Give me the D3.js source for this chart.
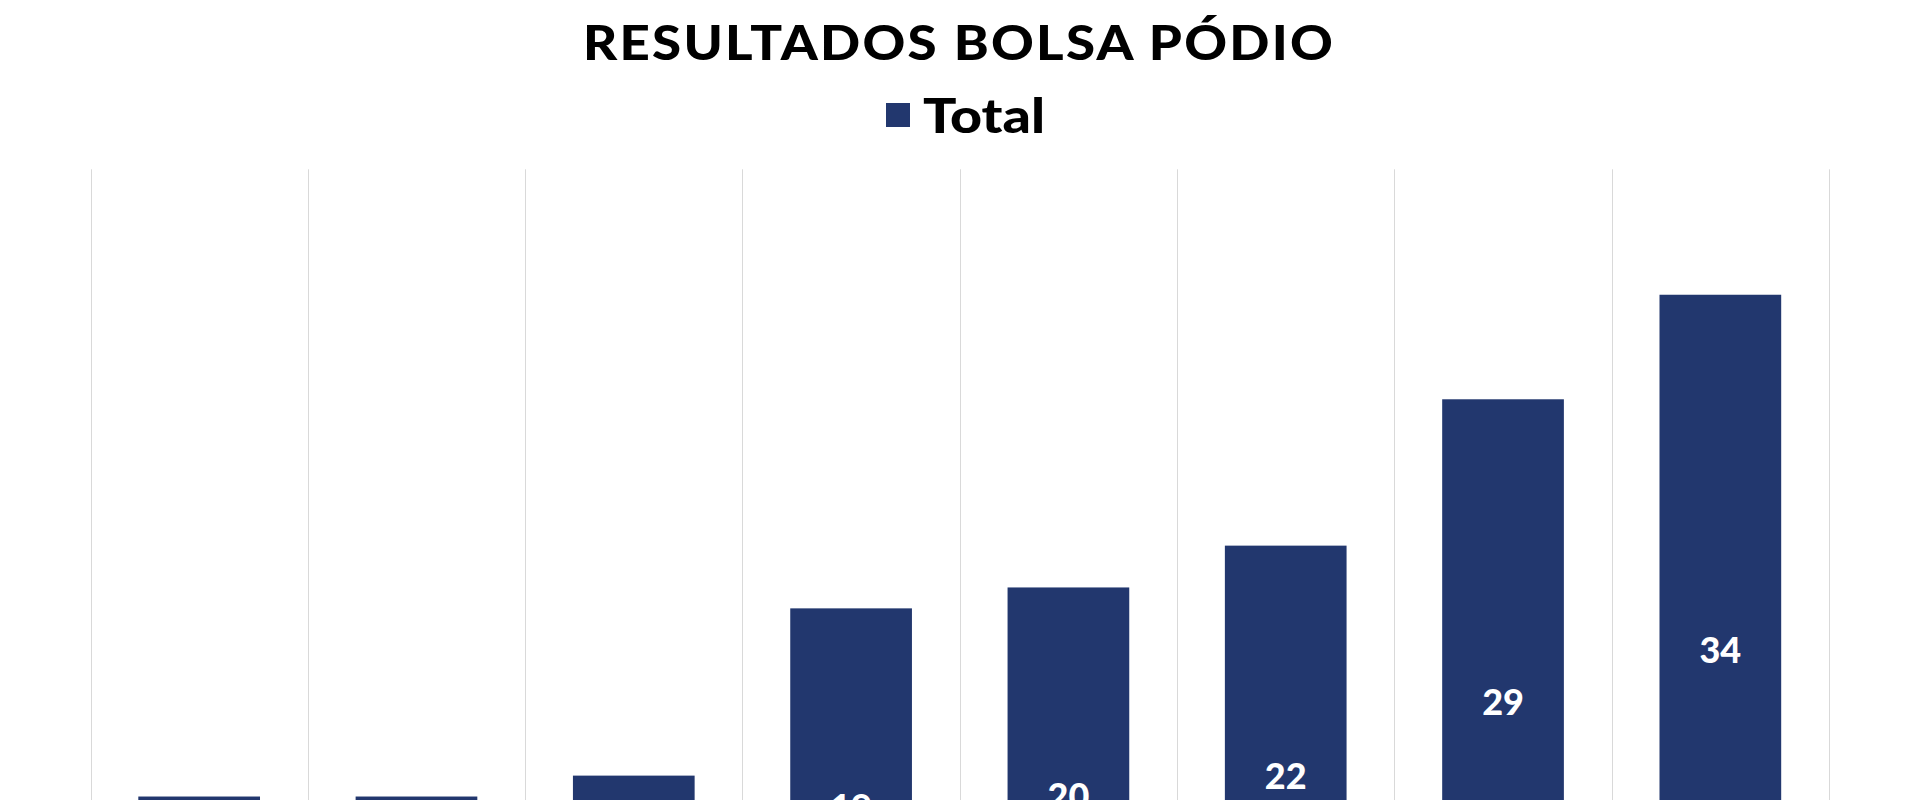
<!DOCTYPE html>
<html>
<head>
<meta charset="utf-8">
<script src="https://cdn.jsdelivr.net/npm/d3@7"></script>
<style>
  html, body { margin: 0; padding: 0; background: #fff; overflow: hidden; }
  svg { display: block; }
</style>
</head>
<body>
<svg id="chart" width="1920" height="800"></svg>
<script>
// ---- data ----
const titleText = "RESULTADOS BOLSA PÓDIO";
const seriesName = "Total";
const categories = ["C1", "C2", "C3", "C4", "C5", "C6", "C7", "C8"]; // axis labels lie below the visible area
const values = [10, 10, 11, 19, 20, 22, 29, 34];
const yDomainMax = 40;

// ---- layout ----
const W = 1920, H = 800;
const plotLeft = 90.5, plotRight = 1829, plotTop = 169.3, plotBottom = 1005.6; // baseline falls below the viewport
const barColor = "#22376e";
const labelSize = 36;

const svg = d3.select("#chart");

const x = d3.scaleBand().domain(categories).range([plotLeft, plotRight]).padding(0);
const y = d3.scaleLinear().domain([0, yDomainMax]).range([plotBottom, plotTop]);
const barFrac = 0.56;

// vertical gridlines at category boundaries
const bounds = categories.map(c => x(c)).concat([x(categories[categories.length - 1]) + x.bandwidth()]);
svg.append("g").selectAll("line").data(bounds).join("line")
  .attr("x1", d => Math.round(d) + 0.5).attr("x2", d => Math.round(d) + 0.5)
  .attr("y1", y(yDomainMax)).attr("y2", y(0))
  .attr("stroke", "#d9d9d9").attr("stroke-width", 1);

// bars
const bw = x.bandwidth() * barFrac;
svg.append("g").selectAll("rect").data(values).join("rect")
  .attr("x", (d, i) => x(categories[i]) + (x.bandwidth() - bw) / 2)
  .attr("y", d => y(d))
  .attr("width", bw)
  .attr("height", d => y(0) - y(d))
  .attr("fill", barColor);

// data labels (centered in bars); labels lying wholly below the viewport are not drawn
const labelData = values.map((v, i) => ({ v, c: categories[i] }))
  .filter(d => (y(d.v) + y(0)) / 2 - labelSize * 0.4 < H);
svg.append("g").selectAll("text").data(labelData).join("text")
  .attr("x", d => x(d.c) + x.bandwidth() / 2)
  .attr("y", d => (y(d.v) + y(0)) / 2)
  .attr("dy", "0.36em")
  .attr("text-anchor", "middle")
  .attr("fill", "#ffffff")
  .attr("font-family", "Lato, 'Open Sans', sans-serif")
  .attr("font-weight", 900)
  .attr("font-size", labelSize)
  .text(d => d.v);

// title
svg.append("text")
  .attr("x", 959).attr("y", 60)
  .attr("text-anchor", "middle")
  .attr("font-family", "Lato, 'Open Sans', sans-serif")
  .attr("font-weight", 900)
  .attr("font-size", 47)
  .attr("letter-spacing", 2)
  .attr("textLength", 752)
  .attr("lengthAdjust", "spacingAndGlyphs")
  .attr("fill", "#000")
  .text(titleText);

// legend
const lg = svg.append("g");
lg.append("rect").attr("x", 886).attr("y", 103).attr("width", 24).attr("height", 24).attr("fill", barColor);
lg.append("text")
  .attr("x", 923).attr("y", 133)
  .attr("font-family", "Lato, 'Open Sans', sans-serif")
  .attr("font-weight", 900)
  .attr("font-size", 48)
  .attr("textLength", 122)
  .attr("lengthAdjust", "spacingAndGlyphs")
  .attr("fill", "#000")
  .text(seriesName);
</script>
</body>
</html>
